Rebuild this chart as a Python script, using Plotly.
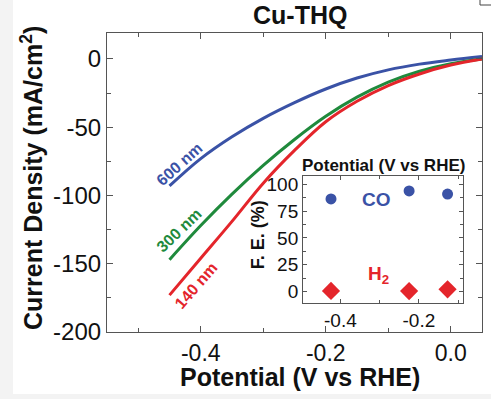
import plotly.graph_objects as go

# ---- data ----
potential = [-0.45, -0.40, -0.35, -0.30, -0.25, -0.20, -0.15, -0.10, -0.05, 0.00, 0.05]
j_600nm = [-93, -73, -57, -43.5, -32, -22, -14, -8, -3.8, -0.8, 1.8]
j_300nm = [-147, -122, -99, -78, -59, -42, -28, -17, -9, -3.5, 0]
j_140nm = [-173, -146, -119, -91, -67, -46, -31, -19.5, -11, -4.5, 0]

fe_potential = [-0.424, -0.225, -0.127]
fe_co = [86.5, 94, 91]
fe_h2 = [0.5, 0.3, 2]

main_xticks = [-0.4, -0.2, 0.0]
main_xticklabels = ["-0.4", "-0.2", "0.0"]
main_yticks = [0, -50, -100, -150, -200]
main_yticklabels = ["0", "-50", "-100", "-150", "-200"]
inset_xticks = [-0.4, -0.2]
inset_xticklabels = ["-0.4", "-0.2"]
inset_yticks = [0, 25, 50, 75, 100]
inset_yticklabels = ["0", "25", "50", "75", "100"]

BLUE = "#3a52a6"
GREEN = "#1f8a3c"
RED = "#e4252b"
FONT = "Liberation Sans, Arial, sans-serif"
AX = "#555555"

fig = go.Figure()
fig.add_trace(go.Scatter(x=potential, y=j_600nm, mode="lines", line=dict(color=BLUE, width=3, shape="spline"), showlegend=False))
fig.add_trace(go.Scatter(x=potential, y=j_300nm, mode="lines", line=dict(color=GREEN, width=3, shape="spline"), showlegend=False))
fig.add_trace(go.Scatter(x=potential, y=j_140nm, mode="lines", line=dict(color=RED, width=3, shape="spline"), showlegend=False))

fig.add_trace(go.Scatter(x=fe_potential, y=fe_co, mode="markers", xaxis="x2", yaxis="y2",
                         marker=dict(symbol="circle", size=11, color=BLUE), showlegend=False))
fig.add_trace(go.Scatter(x=fe_potential, y=fe_h2, mode="markers", xaxis="x2", yaxis="y2",
                         marker=dict(symbol="diamond", size=14, color=RED), showlegend=False))

axis_common = dict(showline=True, linecolor=AX, linewidth=1.2, mirror="ticks", ticks="inside",
                   tickcolor=AX, showgrid=False, zeroline=False, automargin=False)

fig.update_layout(
    width=491, height=399,
    margin=dict(l=107, r=9, t=33, b=67, autoexpand=False),
    paper_bgcolor="#f3f3f3", plot_bgcolor="white",
    font=dict(family=FONT, color="#111111"),
    xaxis=dict(range=[-0.55, 0.05], tickmode="array", tickvals=main_xticks, ticktext=main_xticklabels,
               ticklen=6, tickfont=dict(size=23), ticklabelstandoff=0,
               minor=dict(tickmode="linear", dtick=0.1, tick0=0, ticklen=4, ticks="inside", tickcolor=AX),
               **axis_common),
    yaxis=dict(range=[-200, 19], tickmode="array", tickvals=main_yticks, ticktext=main_yticklabels,
               ticklen=6, tickfont=dict(size=24),
               minor=dict(tickmode="linear", dtick=25, tick0=0, ticklen=4, ticks="inside", tickcolor=AX),
               **axis_common),
    xaxis2=dict(domain=[0.523, 0.949], anchor="y2", range=[-0.495, -0.088], tickmode="array",
                tickvals=inset_xticks, ticktext=inset_xticklabels, ticklen=4, tickfont=dict(size=19),
                minor=dict(tickmode="linear", dtick=0.1, tick0=0, ticklen=3, ticks="inside", tickcolor=AX),
                **axis_common),
    yaxis2=dict(domain=[0.097, 0.522], anchor="x2", range=[-10.8, 108], tickmode="array",
                tickvals=inset_yticks, ticktext=inset_yticklabels, ticklen=4, tickfont=dict(size=19),
                minor=dict(tickmode="linear", dtick=12.5, tick0=0, ticklen=3, ticks="inside", tickcolor=AX),
                **axis_common),
)

shapes = [
    dict(type="rect", xref="paper", yref="paper", x0=-0.2507, x1=1.03, y0=-0.207, y1=1.12,
         fillcolor="white", line=dict(width=0), layer="below"),
    dict(type="path", xref="paper", yref="paper", path="M 0.9947 1.112 L 0.9947 1.0936 L 1.03 1.0936",
         line=dict(color="#444444", width=1)),
]
fig.update_layout(shapes=shapes)

ann = [
    dict(text="<b>Cu-THQ</b>", x=0.515, y=1.06, font=dict(size=25)),
    dict(text="<b>Potential (V vs RHE)</b>", x=0.515, y=-0.152, font=dict(size=25)),
    dict(text="<b>Current Density (mA/cm<sup>2</sup>)</b>", x=-0.2, y=0.515, textangle=-90, font=dict(size=25)),
    dict(text="<b>600 nm</b>", x=0.192, y=0.56, textangle=-42, font=dict(size=16, color=BLUE)),
    dict(text="<b>300 nm</b>", x=0.192, y=0.338, textangle=-44, font=dict(size=16, color=GREEN)),
    dict(text="<b>140 nm</b>", x=0.237, y=0.157, textangle=-49, font=dict(size=16, color=RED)),
    dict(text="<b>Potential (V vs RHE)</b>", x=0.736, y=0.5585, font=dict(size=17)),
    dict(text="<b>F. E. (%)</b>", x=0.403, y=0.324, textangle=-90, font=dict(size=18)),
    dict(text="<b>CO</b>", x=(376 - 107) / 375, y=(332 - 199) / 299, font=dict(size=19, color=BLUE)),
    dict(text="<b>H<sub>2</sub></b>", x=(378 - 107) / 375, y=(332 - 275) / 299, font=dict(size=19, color=RED)),
]
for a in ann:
    a.update(xref="paper", yref="paper", showarrow=False, xanchor="center", yanchor="middle")
fig.update_layout(annotations=ann)

fig.write_html("out.html", config={"displayModeBar": False},
               post_script="document.body.style.margin='0';document.body.style.overflow='hidden';")
